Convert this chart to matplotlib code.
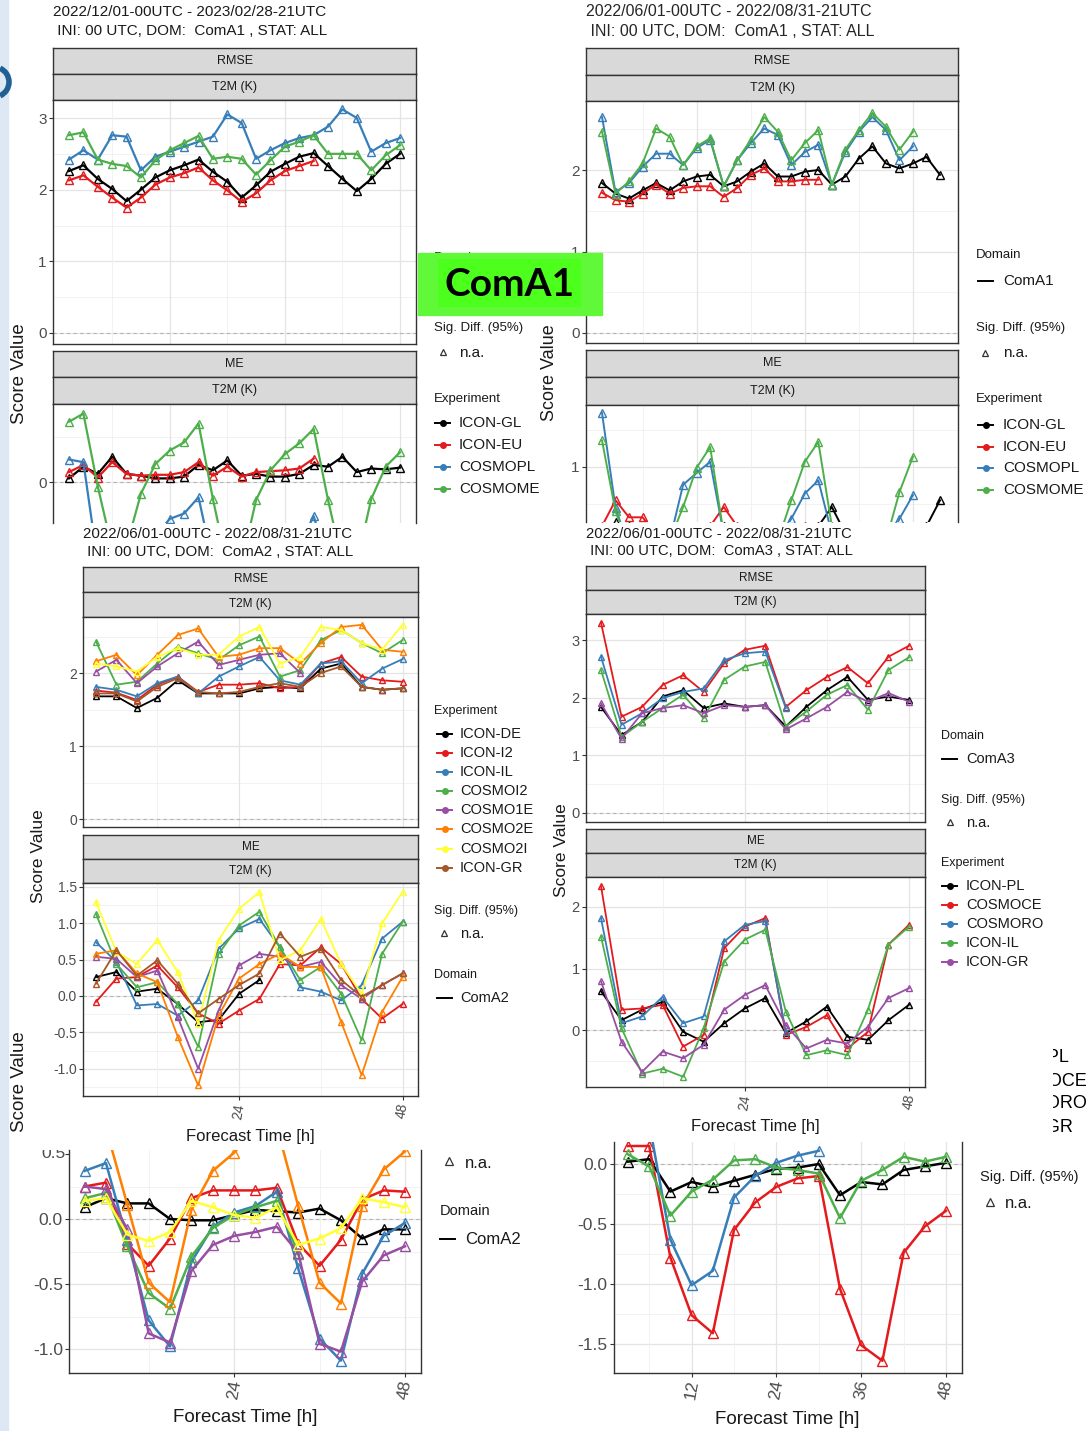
import matplotlib.pyplot as plt
from matplotlib.lines import Line2D
from matplotlib.patches import Rectangle, Arc

plt.rcParams['font.family'] = ['Liberation Sans', 'DejaVu Sans']

# ---------------- data ----------------
hours_2 = [2, 4, 6, 8, 10, 12, 14, 16, 18, 20, 22, 24, 26, 28, 30, 32, 34, 36, 38, 40, 42, 44, 46, 48]
steps_26 = [1, 2, 3, 4, 5, 6, 7, 8, 9, 10, 11, 12, 13, 14, 15, 16, 17, 18, 19, 20, 21, 22, 23, 24, 25, 26]
hours_3 = [3, 6, 9, 12, 15, 18, 21, 24, 27, 30, 33, 36, 39, 42, 45, 48]

exp_coma1 = ['ICON-GL', 'ICON-EU', 'COSMOPL', 'COSMOME']
exp_coma2 = ['ICON-DE', 'ICON-I2', 'ICON-IL', 'COSMOI2', 'COSMO1E', 'COSMO2E', 'COSMO2I', 'ICON-GR']
exp_coma3 = ['ICON-PL', 'COSMOCE', 'COSMORO', 'ICON-IL', 'ICON-GR']

# ComA1 winter (top left)
w1_rmse_gl = [2.26, 2.34, 2.15, 2.01, 1.84, 2.00, 2.17, 2.27, 2.34, 2.42, 2.25, 2.11, 1.89, 2.06, 2.25, 2.36, 2.46, 2.51, 2.33, 2.15, 1.98, 2.15, 2.36, 2.50]
w1_rmse_eu = [2.13, 2.20, 2.04, 1.89, 1.75, 1.89, 2.07, 2.17, 2.23, 2.31, 2.13, 1.99, 1.83, 1.95, 2.13, 2.26, 2.33, 2.40]
w1_rmse_pl = [2.42, 2.55, 2.42, 2.76, 2.74, 2.27, 2.46, 2.53, 2.60, 2.67, 2.74, 3.05, 2.93, 2.43, 2.55, 2.65, 2.72, 2.76, 2.88, 3.12, 3.00, 2.53, 2.65, 2.72]
w1_rmse_me = [2.76, 2.80, 2.42, 2.36, 2.33, 2.17, 2.41, 2.55, 2.65, 2.75, 2.43, 2.46, 2.43, 2.21, 2.41, 2.60, 2.67, 2.76, 2.50, 2.50, 2.50, 2.27, 2.48, 2.62]
w1_me_gl = [0.04, 0.17, 0.09, 0.28, 0.09, 0.07, 0.04, 0.04, 0.06, 0.19, 0.13, 0.24, 0.07, 0.09, 0.06, 0.06, 0.09, 0.19, 0.17, 0.28, 0.11, 0.15, 0.14, 0.16]
w1_me_eu = [0.11, 0.19, 0.05, 0.22, 0.09, 0.07, 0.08, 0.08, 0.11, 0.22, 0.07, 0.17, 0.06, 0.11, 0.12, 0.13, 0.15, 0.26]
w1_me_pl = [0.25, 0.22, -0.90, -1.00, -1.00, -0.90, -0.60, -0.41, -0.35, -0.17, -0.90, -1.00, -1.00, -1.00, -0.90, -0.80, -0.70, -0.38, -0.90, -1.00, -1.00, -0.90, -0.80, -0.70]
w1_me_me = [0.67, 0.76, -0.05, -0.74, -0.71, -0.13, 0.20, 0.35, 0.44, 0.65, -0.19, -0.93, -0.90, -0.20, 0.13, 0.31, 0.43, 0.59, -0.20, -0.90, -0.90, -0.19, 0.17, 0.33]

# ComA1 summer (top right)
s1_rmse_gl = [1.84, 1.71, 1.65, 1.75, 1.84, 1.75, 1.86, 1.92, 1.94, 1.80, 1.86, 1.98, 2.08, 1.92, 1.92, 1.98, 2.00, 1.82, 1.92, 2.14, 2.29, 2.08, 2.02, 2.08, 2.16, 1.94]
s1_rmse_eu = [1.72, 1.63, 1.61, 1.71, 1.82, 1.71, 1.78, 1.80, 1.80, 1.67, 1.78, 1.94, 2.02, 1.86, 1.86, 1.88, 1.88]
s1_rmse_pl = [2.65, 1.73, 1.84, 2.04, 2.20, 2.20, 2.06, 2.27, 2.37, 1.80, 2.12, 2.33, 2.51, 2.43, 2.06, 2.22, 2.31, 1.82, 2.22, 2.47, 2.65, 2.49, 2.12, 2.29]
s1_rmse_me = [2.47, 1.71, 1.86, 2.08, 2.51, 2.41, 2.06, 2.29, 2.39, 1.80, 2.12, 2.37, 2.65, 2.47, 2.12, 2.33, 2.49, 1.82, 2.25, 2.49, 2.70, 2.53, 2.25, 2.47]
s1_me_gl = [0.10, 0.25, 0.20, 0.15, 0.00, -0.10, -0.10, 0.00, 0.10, 0.20, 0.10, 0.00, -0.10, -0.10, 0.00, 0.10, 0.20, 0.46, 0.10, -0.10, -0.10, -0.10, 0.00, 0.10, 0.20, 0.55]
s1_me_eu = [0.20, 0.55, 0.32, 0.32, 0.10, 0.00, -0.10, 0.10, 0.20, 0.46, 0.20, 0.00, -0.10, 0.00, 0.10, 0.20, 0.15]
s1_me_pl = [1.73, 0.45, -0.10, -0.20, -0.20, 0.00, 0.76, 0.92, 1.07, 0.10, -0.20, -0.30, -0.20, 0.00, 0.30, 0.64, 0.82, 0.10, -0.20, -0.30, -0.30, -0.10, 0.30, 0.62]
s1_me_me = [1.36, 0.40, -0.10, -0.20, -0.20, 0.00, 0.46, 0.99, 1.27, 0.10, -0.20, -0.30, -0.20, 0.00, 0.55, 1.07, 1.34, 0.20, -0.20, -0.30, -0.30, 0.00, 0.66, 1.14]

# ComA2 (middle left)
a2_rmse_de = [1.68, 1.68, 1.52, 1.66, 1.90, 1.72, 1.72, 1.72, 1.79, 1.81, 1.79, 2.06, 2.13, 1.81, 1.77, 1.79]
a2_rmse_i2 = [1.76, 1.73, 1.63, 1.84, 1.95, 1.74, 1.84, 1.84, 1.86, 1.79, 1.81, 2.13, 2.22, 1.95, 1.90, 1.88]
a2_rmse_il = [1.81, 1.77, 1.68, 1.86, 1.95, 1.72, 1.95, 2.09, 2.22, 1.90, 1.84, 2.13, 2.16, 1.86, 2.06, 2.19]
a2_rmse_ci2 = [2.43, 1.84, 1.88, 2.13, 2.36, 2.27, 2.18, 2.38, 2.50, 1.95, 2.04, 2.45, 2.59, 2.41, 2.27, 2.45]
a2_rmse_c1e = [2.02, 2.18, 1.86, 2.09, 2.27, 2.43, 2.11, 2.18, 2.25, 2.27, 2.00]
a2_rmse_c2e = [2.16, 2.25, 1.97, 2.25, 2.52, 2.61, 2.22, 2.25, 2.34, 2.34, 2.13, 2.41, 2.63, 2.66, 2.32, 2.29]
a2_rmse_c2i = [2.13, 2.09, 2.02, 2.22, 2.34, 2.25, 2.25, 2.50, 2.63, 2.13, 2.22, 2.63, 2.59, 2.41, 2.32, 2.66]
a2_rmse_gr = [1.72, 1.72, 1.61, 1.81, 1.93, 1.74, 1.72, 1.74, 1.81, 1.86, 1.81, 2.00, 2.09, 1.81, 1.77, 1.79]
a2_me_de = [0.26, 0.33, 0.06, 0.10, -0.11, -0.36, -0.33, 0.03, 0.22]
a2_me_i2 = [-0.08, 0.24, 0.26, 0.42, 0.12, -0.24, -0.38, -0.20, -0.04, 0.44, 0.42, 0.67, 0.44, -0.04, -0.31, -0.11]
a2_me_il = [0.74, 0.47, -0.13, -0.11, -0.27, -0.06, 0.65, 0.93, 1.06, 0.67, 0.12, 0.06, -0.06, 0.15, 0.79, 1.02]
a2_me_ci2 = [1.13, 0.44, 0.12, 0.19, -0.11, -0.70, 0.58, 0.97, 1.16, 0.67, 0.22, 0.40, 0.03, -0.61, 0.58, 1.02]
a2_me_c1e = [0.54, 0.51, 0.26, 0.35, -0.29, -1.00, -0.20, 0.42, 0.58, 0.54, 0.40, 0.47, 0.15, -0.04, 0.15, 0.31]
a2_me_c2e = [0.58, 0.63, 0.31, 0.19, -0.56, -1.23, -0.27, 0.24, 0.44, 0.58, 0.40, 0.40, -0.36, -1.09, -0.22, 0.26]
a2_me_c2i = [1.29, 0.61, 0.44, 0.77, 0.33, -0.38, 0.77, 1.20, 1.43, 0.49, 0.63, 1.06, 0.44, 0.03, 1.00, 1.43]
a2_me_gr = [0.17, 0.63, 0.28, 0.49, 0.17, -0.24, -0.04, 0.15, 0.31, 0.86, 0.54, 0.65, 0.22, -0.01, 0.15, 0.31]

# ComA3 (middle right)
a3_rmse_pl = [1.84, 1.35, 1.58, 2.02, 2.13, 1.82, 1.90, 1.84, 1.87, 1.50, 1.84, 2.13, 2.36, 1.96, 2.02, 1.96]
a3_rmse_ce = [3.30, 1.67, 1.84, 2.22, 2.39, 2.10, 2.60, 2.83, 2.90, 1.84, 2.13, 2.36, 2.53, 2.25, 2.71, 2.90]
a3_rmse_ro = [2.71, 1.53, 1.73, 1.99, 2.10, 2.16, 2.65, 2.77, 2.80, 1.82]
a3_rmse_il = [2.48, 1.32, 1.58, 1.82, 2.05, 1.64, 2.31, 2.54, 2.62, 1.50, 1.76, 2.05, 2.22, 1.79, 2.48, 2.70]
a3_rmse_gr = [1.90, 1.29, 1.73, 1.82, 1.87, 1.73, 1.87, 1.84, 1.87, 1.45, 1.64, 1.84, 2.10, 1.93, 2.08, 1.93]
a3_me_pl = [0.63, 0.16, 0.33, 0.46, -0.03, -0.19, 0.11, 0.35, 0.52, -0.05, 0.14, 0.38, -0.11, -0.16, 0.16, 0.41]
a3_me_ce = [2.34, 0.33, 0.35, 0.41, -0.27, -0.08, 1.33, 1.68, 1.82, -0.08, 0.05, 0.24, -0.30, -0.03, 1.39, 1.71]
a3_me_ro = [1.82, 0.11, 0.22, 0.54, 0.11, 0.22, 1.44, 1.71, 1.77, -0.03]
a3_me_il = [1.52, 0.03, -0.71, -0.63, -0.76, 0.03, 1.11, 1.47, 1.63, 0.30, -0.41, -0.33, -0.41, 0.33, 1.39, 1.68]
a3_me_gr = [0.79, -0.19, -0.68, -0.35, -0.46, -0.24, 0.33, 0.57, 0.73, 0.08, -0.30, -0.16, -0.22, 0.05, 0.52, 0.68]

# zoomed ME, ComA2 (bottom left)
z2_black = [0.09, 0.16, 0.12, 0.12, 0.00, -0.01, -0.01, 0.03, 0.07, 0.06, 0.05, 0.08, -0.01, -0.15, -0.08, -0.08]
z2_red = [0.25, 0.28, -0.19, -0.36, -0.15, 0.16, 0.22, 0.22, 0.22, 0.24, -0.19, -0.36, -0.16, 0.15, 0.22, 0.21]
z2_blue = [0.37, 0.43, -0.16, -0.78, -0.98, -0.33, -0.06, 0.05, 0.10, 0.21, -0.38, -0.92, -1.09, -0.42, -0.13, -0.03]
z2_green = [0.16, 0.20, -0.21, -0.57, -0.69, -0.29, -0.07, 0.03, 0.09, 0.14, -0.27]
z2_purple = [0.25, 0.23, -0.08, -0.88, -0.95, -0.40, -0.20, -0.13, -0.10, -0.06, -0.26, -0.96, -1.02, -0.48, -0.28, -0.21]
z2_orange = [0.65, 0.70, 0.11, -0.49, -0.64, 0.07, 0.37, 0.51, 0.70, 0.71, 0.10, -0.49, -0.65, 0.10, 0.38, 0.52]
z2_yellow = [0.14, 0.16, -0.12, -0.17, -0.10, 0.14, 0.09, 0.03, 0.01, 0.09, -0.20, -0.15, -0.07, 0.16, 0.13, 0.09]

# zoomed ME, ComA3 (bottom right)
z3_black = [0.02, 0.04, -0.23, -0.15, -0.19, -0.14, -0.09, -0.04, -0.03, 0.00, -0.26, -0.15, -0.17, -0.05, -0.02, 0.01]
z3_red = [0.15, 0.15, -0.78, -1.26, -1.41, -0.55, -0.32, -0.19, -0.12, -0.10, -1.04, -1.51, -1.64, -0.74, -0.52, -0.39]
z3_blue = [0.50, 0.34, -0.63, -1.01, -0.89, -0.28, -0.10, 0.01, 0.07, 0.11]
z3_green = [0.08, -0.02, -0.43, -0.23, -0.13, 0.03, 0.04, -0.03, -0.05, -0.08, -0.45, -0.14, -0.05, 0.06, 0.02, 0.06]

BLACK, RED, BLUE, GREEN = '#000000', '#E41A1C', '#377EB8', '#4DAF4A'
PURPLE, ORANGE, YELLOW, BROWN = '#984EA3', '#FF7F00', '#FFFF33', '#A65628'
set1_4 = [BLACK, RED, BLUE, GREEN]
set1_8 = [BLACK, RED, BLUE, GREEN, PURPLE, ORANGE, YELLOW, BROWN]
set1_5 = [BLACK, RED, BLUE, GREEN, PURPLE]

# ---------------- figure ----------------
W, H = 1089, 1431
fig = plt.figure(figsize=(W / 100, H / 100), dpi=100)


def rect(x0, y0, x1, y1):
    return [x0 / W, 1 - y1 / H, (x1 - x0) / W, (y1 - y0) / H]


def span(pa, va, pb, vb, lo, hi):
    k = (vb - va) / (pb - pa)
    return va + (lo - pa) * k, va + (hi - pa) * k


def clip(t, x0, y0, x1, y1):
    t.set_clip_path(Rectangle((x0 / W, 1 - y1 / H), (x1 - x0) / W, (y1 - y0) / H,
                              transform=fig.transFigure))


def ftext(x, y, s, fs, color='#1a1a1a', ha='left', rot=0, **kw):
    return fig.text(x / W, 1 - y / H, s, fontsize=fs, color=color, ha=ha,
                    va='center', rotation=rot, **kw)


def strip(x0, y0, x1, y1, label, fs):
    ax = fig.add_axes(rect(x0, y0, x1, y1))
    ax.set_facecolor('#d9d9d9')
    ax.set_xticks([])
    ax.set_yticks([])
    for s in ax.spines.values():
        s.set_color('#333333')
        s.set_linewidth(1.0)
    ax.text(0.5, 0.5, label, ha='center', va='center', fontsize=fs,
            color='#1a1a1a', transform=ax.transAxes)


def panel(box, xref, yref, xs, series, colors, yticks, ylabels, vmaj, vmin, hmin,
          fs, lw, ms, xticks=(), xlabels=(), xfs=10, cut_top=False, cut_bottom=False):
    x0, y0, x1, y1 = box
    ax = fig.add_axes(rect(x0, y0, x1, y1))
    ax.set_xlim(span(xref[0], xref[1], xref[2], xref[3], x0, x1))
    ax.set_ylim(span(yref[0], yref[1], yref[2], yref[3], y1, y0))
    for v in hmin:
        ax.axhline(v, color='#f0f0f0', lw=0.6, zorder=0)
    for v in yticks:
        ax.axhline(v, color='#e4e4e4', lw=0.9, zorder=0)
    for v in vmin:
        ax.axvline(v, color='#f0f0f0', lw=0.6, zorder=0)
    for v in vmaj:
        ax.axvline(v, color='#e4e4e4', lw=0.9, zorder=0)
    ax.axhline(0, color='#b3b3b3', lw=0.8, ls=(0, (3, 3)), zorder=1)
    for ys, c in zip(series, colors):
        ax.plot(xs[:len(ys)], ys, color=c, lw=lw, marker='^', ms=ms,
                mfc='none', mew=1.0, zorder=3)
    ax.set_yticks(yticks, ylabels)
    ax.set_xticks(list(xticks), list(xlabels))
    ax.tick_params(axis='both', length=3, width=0.8, color='#333333',
                   labelcolor='#4d4d4d', pad=1.5)
    ax.tick_params(axis='y', labelsize=fs)
    ax.tick_params(axis='x', labelsize=xfs, labelrotation=80)
    for s in ax.spines.values():
        s.set_color('#333333')
        s.set_linewidth(1.0)
    if cut_top:
        ax.spines['top'].set_visible(False)
    if cut_bottom:
        ax.spines['bottom'].set_visible(False)
    return ax


def key(x, y, color, dot=True):
    fig.add_artist(Line2D([x / W, (x + 15) / W], [1 - y / H] * 2, color=color, lw=1.4))
    if dot:
        fig.add_artist(Line2D([(x + 7.5) / W], [1 - y / H], marker='o', ms=4,
                              color=color, lw=0))


def tri(x, y, ms=5):
    fig.add_artist(Line2D([x / W], [1 - y / H], marker='^', ms=ms, mfc='none',
                          mec='#333333', mew=0.9, lw=0))


# light blue page edge and logo piece
fig.add_artist(Rectangle((0, 0), 8 / W, 1, transform=fig.transFigure,
                         color='#dde8f4', zorder=10))
fig.add_artist(Arc((-6 / W, 1 - 82 / H), 30 / W, 30 / H, theta1=-60, theta2=60,
                   transform=fig.transFigure, color='#1f5f94', lw=4, zorder=11))

# ---- top left: ComA1 winter ----
ftext(53, 12, '2022/12/01-00UTC - 2023/02/28-21UTC', 11)
ftext(53, 31, ' INI: 00 UTC, DOM:  ComA1 , STAT: ALL', 11)
strip(53, 48, 416, 74, 'RMSE', 9)
strip(53, 74, 416, 100, 'T2M (K)', 9)
panel((53, 100, 416, 344), (69, 2, 400, 48), (118, 3, 333, 0), hours_2,
      [w1_rmse_gl, w1_rmse_eu, w1_rmse_pl, w1_rmse_me], set1_4,
      [0, 1, 2, 3], ['0', '1', '2', '3'], [16, 32, 48], [8, 24, 40],
      [0.5, 1.5, 2.5], 11, 1.6, 6)
strip(53, 351, 416, 377, 'ME', 9)
strip(53, 377, 416, 404, 'T2M (K)', 9)
panel((53, 404, 416, 523), (69, 2, 400, 48), (482, 0, 392, 1), hours_2,
      [w1_me_gl, w1_me_eu, w1_me_pl, w1_me_me], set1_4,
      [0], ['0'], [16, 32, 48], [8, 24, 40], [-0.5, 0.5], 11, 1.6, 6,
      cut_bottom=True)
ftext(20, 374, 'Score Value', 13.5, rot=90, ha='center')
ftext(434, 258, 'Domain', 9.5)
ftext(434, 328, 'Sig. Diff. (95%)', 9.5)
tri(443, 352)
ftext(459, 353, 'n.a.', 11)
ftext(434, 399, 'Experiment', 9.5)
for i, (name, c) in enumerate(zip(exp_coma1, set1_4)):
    key(435, 423 + 22 * i, c)
    t = ftext(459, 423 + 22 * i, name, 11)
    clip(t, 0, 0, 540, 522)

# ---- top right: ComA1 summer ----
ftext(586, 12, '2022/06/01-00UTC - 2022/08/31-21UTC', 11.5, color='#262626')
ftext(586, 31, ' INI: 00 UTC, DOM:  ComA1 , STAT: ALL', 11.5, color='#262626')
strip(586, 48, 958, 75, 'RMSE', 9)
strip(586, 75, 958, 101, 'T2M (K)', 9)
panel((586, 101, 958, 343), (602, 1, 940, 26), (170, 2, 333, 0), steps_26,
      [s1_rmse_gl, s1_rmse_eu, s1_rmse_pl, s1_rmse_me], set1_4,
      [0, 1, 2], ['0', '1', '2'], [8, 16, 24], [4, 12, 20],
      [0.5, 1.5, 2.5], 11, 1.4, 5.5)
strip(586, 350, 958, 377, 'ME', 9)
strip(586, 377, 958, 405, 'T2M (K)', 9)
panel((586, 405, 958, 522), (602, 1, 940, 26), (467, 1, 541, 0), steps_26,
      [s1_me_gl, s1_me_eu, s1_me_pl, s1_me_me], set1_4,
      [1], ['1'], [8, 16, 24], [4, 12, 20], [0.5, 1.5], 11, 1.4, 5.5,
      cut_bottom=True)
ftext(550, 373, 'Score Value', 13, rot=90, ha='center')
ftext(976, 255, 'Domain', 9.5)
key(978, 281, BLACK, dot=False)
ftext(1003, 281, 'ComA1', 11)
ftext(976, 328, 'Sig. Diff. (95%)', 9.5)
tri(985, 353)
ftext(1003, 353, 'n.a.', 11)
ftext(976, 399, 'Experiment', 9.5)
for i, (name, c) in enumerate(zip(exp_coma1, set1_4)):
    key(978, 425 + 21.7 * i, c)
    ftext(1003, 425 + 21.7 * i, name, 11)

# ---- middle left: ComA2 ----
ftext(83, 534, '2022/06/01-00UTC - 2022/08/31-21UTC', 10.8)
ftext(83, 552, ' INI: 00 UTC, DOM:  ComA2 , STAT: ALL', 10.8)
strip(83, 567, 418, 592, 'RMSE', 8.5)
strip(83, 592, 418, 617, 'T2M (K)', 8.5)
panel((83, 617, 418, 827), (96, 3, 402.5, 48), (673, 2, 819, 0), hours_3,
      [a2_rmse_de, a2_rmse_i2, a2_rmse_il, a2_rmse_ci2, a2_rmse_c1e,
       a2_rmse_c2e, a2_rmse_c2i, a2_rmse_gr], set1_8,
      [0, 1, 2], ['0', '1', '2'], [24, 48], [12, 36], [0.5, 1.5, 2.5],
      10, 1.3, 4.5)
strip(83, 835, 418, 859, 'ME', 8.5)
strip(83, 859, 418, 883, 'T2M (K)', 8.5)
panel((83, 883, 418, 1096), (96, 3, 402.5, 48), (996, 0, 887, 1.5), hours_3,
      [a2_me_de, a2_me_i2, a2_me_il, a2_me_ci2, a2_me_c1e, a2_me_c2e,
       a2_me_c2i, a2_me_gr], set1_8,
      [-1, -0.5, 0, 0.5, 1, 1.5], ['-1.0', '-0.5', '0.0', '0.5', '1.0', '1.5'],
      [24, 48], [12, 36], [-1.25, -0.75, -0.25, 0.25, 0.75, 1.25],
      10, 1.3, 4.5, xticks=[24, 48], xlabels=['24', '48'], xfs=10)
ftext(250, 1136, 'Forecast Time [h]', 12)
fig.texts[-1].set_ha('center')
ftext(38, 856, 'Score Value', 12.5, rot=90, ha='center')
ftext(434, 711, 'Experiment', 9)
for i, (name, c) in enumerate(zip(exp_coma2, set1_8)):
    key(437, 734 + 19.1 * i, c)
    ftext(460, 734 + 19.1 * i, name, 10.5)
ftext(434, 911, 'Sig. Diff. (95%)', 9)
tri(444, 933)
ftext(460, 934, 'n.a.', 10.5)
ftext(434, 975, 'Domain', 9)
key(437, 998, BLACK, dot=False)
ftext(460, 998, 'ComA2', 10.5)

# ---- middle right: ComA3 ----
ftext(586, 534, '2022/06/01-00UTC - 2022/08/31-21UTC', 10.6)
ftext(586, 551, ' INI: 00 UTC, DOM:  ComA3 , STAT: ALL', 10.6)
strip(586, 566, 925, 590, 'RMSE', 8.5)
strip(586, 590, 925, 614, 'T2M (K)', 8.5)
panel((586, 614, 925, 822), (601, 3, 909, 48), (640, 3, 813, 0), hours_3,
      [a3_rmse_pl, a3_rmse_ce, a3_rmse_ro, a3_rmse_il, a3_rmse_gr], set1_5,
      [0, 1, 2, 3], ['0', '1', '2', '3'], [24, 48], [12, 36],
      [0.5, 1.5, 2.5], 10.5, 1.3, 5)
strip(586, 829, 925, 853, 'ME', 8.5)
strip(586, 853, 925, 877, 'T2M (K)', 8.5)
panel((586, 877, 925, 1087), (601, 3, 909, 48), (1030, 0, 907, 2), hours_3,
      [a3_me_pl, a3_me_ce, a3_me_ro, a3_me_il, a3_me_gr], set1_5,
      [0, 1, 2], ['0', '1', '2'], [24, 48], [12, 36], [-0.5, 0.5, 1.5],
      10.5, 1.3, 5, xticks=[24, 48], xlabels=['24', '48'], xfs=10)
ftext(755, 1126, 'Forecast Time [h]', 12, ha='center')
ftext(561, 850, 'Score Value', 12.5, rot=90, ha='center')
ftext(941, 736, 'Domain', 9)
key(942, 759, BLACK, dot=False)
ftext(966, 759, 'ComA3', 10.5)
ftext(941, 800, 'Sig. Diff. (95%)', 9)
tri(950, 822)
ftext(966, 823, 'n.a.', 10.5)
ftext(941, 863, 'Experiment', 9)
for i, (name, c) in enumerate(zip(exp_coma3, set1_5)):
    key(942, 886 + 19 * i, c)
    ftext(966, 886 + 19 * i, name, 10.5)
for name, y, xr in [('ICON-PL', 1058, 1069), ('COSMOCE', 1082, 1087),
                    ('COSMORO', 1104, 1087), ('ICON-GR', 1127, 1073)]:
    t = ftext(xr, y, name, 13, color='#000000', ha='right')
    clip(t, 1053, 1040, 1089, 1140)

# ---- bottom left: zoomed ME ComA2 ----
t = ftext(20, 1082, 'Score Value', 13.5, rot=90, ha='center')
clip(t, 0, 1000, 26, 1145)
axe = panel((69, 1150, 421, 1373), (84.6, 3, 405, 48), (1219, 0, 1349, -1), hours_3,
            [z2_black, z2_red, z2_blue, z2_green, z2_purple, z2_orange, z2_yellow],
            [BLACK, RED, BLUE, GREEN, PURPLE, ORANGE, YELLOW],
            [-1, -0.5, 0], ['-1.0', '-0.5', '0.0'], [24, 48], [12, 36],
            [-0.75, -0.25, 0.25], 12.5, 1.8, 7, xticks=[24, 48],
            xlabels=['24', '48'], xfs=12.5, cut_top=True)
axe.set_yticks([-1, -0.5, 0, 0.5], ['-1.0', '-0.5', '0.0', ''])
t = ftext(66, 1154, '0.5', 12.5, color='#4d4d4d', ha='right')
clip(t, 0, 1150, 100, 1200)
ftext(245, 1418, 'Forecast Time [h]', 13.5, ha='center')
tri(449, 1161, ms=5.5)
ftext(465, 1163, 'n.a.', 12)
ftext(440, 1211, 'Domain', 10.5)
key(440, 1239, BLACK, dot=False)
ftext(465, 1239, 'ComA2', 12)

# ---- bottom right: zoomed ME ComA3 ----
panel((614, 1142, 962, 1373), (628, 3, 946, 48), (1164, 0, 1344, -1.5), hours_3,
      [z3_black, z3_red, z3_blue, z3_green], set1_4,
      [-1.5, -1, -0.5, 0], ['-1.5', '-1.0', '-0.5', '0.0'],
      [12, 24, 36, 48], [6, 18, 30, 42], [-1.25, -0.75, -0.25], 12.5, 1.8, 7,
      xticks=[12, 24, 36, 48], xlabels=['12', '24', '36', '48'], xfs=12.5,
      cut_top=True)
ftext(787, 1419, 'Forecast Time [h]', 13.5, ha='center')
ftext(980, 1177, 'Sig. Diff. (95%)', 10.5)
tri(990, 1202, ms=5.5)
ftext(1005, 1204, 'n.a.', 12)

# ---- ComA1 tag ----
fig.add_artist(Rectangle((418 / W, 1 - 315 / H), 184 / W, 62 / H,
                         transform=fig.transFigure, color='#62f83a', zorder=20))
fig.add_artist(Rectangle((438 / W, 1 - 306 / H), 142 / W, 47 / H,
                         transform=fig.transFigure, color='#4cff1c', zorder=21))
fig.text(509 / W, 1 - 284 / H, 'ComA1', fontsize=28, fontweight='bold',
         family=['Lato', 'DejaVu Sans'], ha='center', va='center', zorder=22)

fig.savefig('out.png', dpi=100)
